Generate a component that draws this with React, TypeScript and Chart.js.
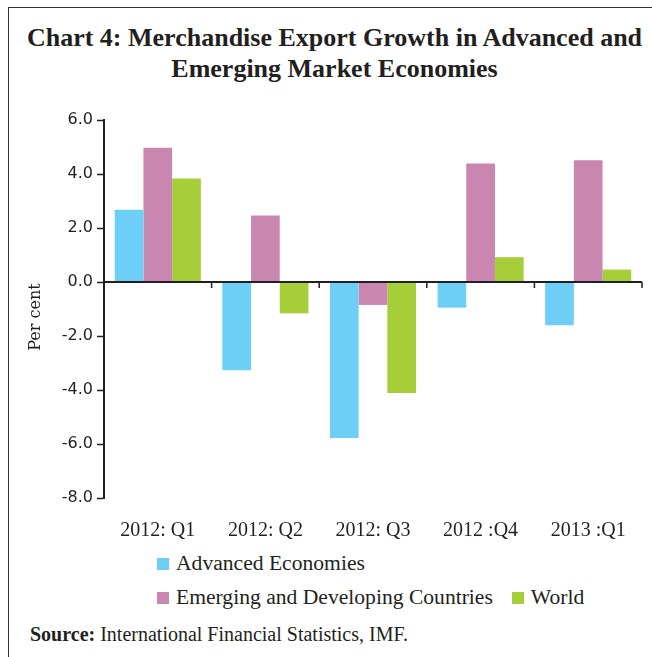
import React, { useEffect, useRef } from "react";
import { Chart, registerables } from "chart.js";

Chart.register(...registerables);

const categories = ["2012: Q1", "2012: Q2", "2012: Q3", "2012 :Q4", "2013 :Q1"];
const advanced = [2.68, -3.27, -5.78, -0.95, -1.6];
const emerging = [4.97, 2.46, -0.85, 4.39, 4.51];
const world = [3.83, -1.16, -4.11, 0.92, 0.46];
const seriesNames = ["Advanced Economies", "Emerging and Developing Countries", "World"];
const seriesColors = ["#6dcff6", "#c986b1", "#a6ce39"];
const yMin = -8;
const yMax = 6;
const yStep = 2;
const yTitle = "Per cent";

const INK = "#231f20";
const SERIF = "'Liberation Serif', 'Times New Roman', serif";

const zeroAxisPlugin = {
  id: "zeroAxis",
  afterDatasetsDraw(chart: any) {
    const { ctx, chartArea, scales } = chart;
    const y = scales.y;
    const x = scales.x;
    const y0 = y.getPixelForValue(0);
    ctx.save();
    ctx.strokeStyle = INK;
    ctx.lineWidth = 2;
    ctx.beginPath();
    ctx.moveTo(chartArea.left, y0);
    ctx.lineTo(chartArea.right, y0);
    ctx.stroke();
    ctx.lineWidth = 1.5;
    const n = categories.length;
    const step = n > 1 ? x.getPixelForValue(1) - x.getPixelForValue(0) : 0;
    for (let i = 0; i < n; i++) {
      const bx = x.getPixelForValue(i) + step / 2;
      ctx.beginPath();
      ctx.moveTo(bx, y0);
      ctx.lineTo(bx, y0 + 6);
      ctx.stroke();
    }
    // y axis title
    ctx.fillStyle = INK;
    ctx.font = "16px 'DejaVu Serif', serif";
    ctx.textAlign = "center";
    ctx.textBaseline = "middle";
    ctx.translate(36, (chartArea.top + chartArea.bottom) / 2 + 8);
    ctx.rotate(-Math.PI / 2);
    ctx.fillText(yTitle, 0, 0);
    ctx.restore();
  },
};

function ChartCanvas() {
  const ref = useRef<HTMLCanvasElement | null>(null);
  useEffect(() => {
    if (!ref.current) return;
    const chart = new Chart(ref.current, {
      type: "bar",
      data: {
        labels: categories,
        datasets: [advanced, emerging, world].map((d, i) => ({
          label: seriesNames[i],
          data: d,
          backgroundColor: seriesColors[i],
          borderWidth: 0,
          categoryPercentage: 0.8,
          barPercentage: 1.0,
        })),
      },
      options: {
        animation: false,
        responsive: false,
        devicePixelRatio: 1,
        layout: { padding: { left: 22, top: 20, right: 10, bottom: 0 } },
        plugins: {
          legend: { display: false },
          title: { display: false },
          tooltip: { enabled: false },
        },
        scales: {
          x: {
            grid: { display: false },
            border: { display: false },
            ticks: {
              color: INK,
              padding: 13,
              font: { family: SERIF, size: 20 },
              maxRotation: 0,
              autoSkip: false,
            },
            afterFit(scale: any) {
              scale.height = 47;
            },
          },
          y: {
            min: yMin,
            max: yMax,
            border: { display: true, color: INK, width: 2 },
            grid: {
              drawOnChartArea: false,
              drawTicks: true,
              tickLength: 7,
              tickWidth: 1.5,
              tickColor: INK,
              color: INK,
            },
            ticks: {
              stepSize: yStep,
              color: INK,
              padding: 4,
              font: { family: "'DejaVu Sans', sans-serif", size: 16 },
              callback: (v: any) => Number(v).toFixed(1),
            },
            title: { display: false },
            afterFit(scale: any) {
              scale.width = 82;
            },
          },
        },
      },
      plugins: [zeroAxisPlugin],
    });
    return () => chart.destroy();
  }, []);
  return (
    <canvas
      ref={ref}
      width={652}
      height={445}
      style={{ position: "absolute", left: 0, top: 100, display: "block", width: 652, height: 445 }}
    />
  );
}

function Swatch({ color }: { color: string }) {
  return (
    <span
      style={{
        display: "inline-block",
        width: 12,
        height: 12,
        background: color,
        marginRight: 7,
        verticalAlign: "baseline",
      }}
    />
  );
}

export default function App() {
  return (
    <div style={{ position: "absolute", left: 0, top: 0, width: 652, height: 657, overflow: "hidden", background: "#fff", fontFamily: SERIF, color: INK }}>
      <div
        style={{
          position: "absolute",
          left: 8,
          top: 7,
          width: 644,
          height: 650,
          borderLeft: "1px solid #333",
          borderTop: "1px solid #333",
          boxSizing: "border-box",
        }}
      />
      <div
        style={{
          position: "absolute",
          left: 22,
          top: 22,
          width: 625,
          textAlign: "center",
          fontWeight: "bold",
          fontSize: 26,
          lineHeight: "31px",
          whiteSpace: "nowrap",
        }}
      >
        <div>Chart 4: Merchandise Export Growth in Advanced and</div>
        <div>Emerging Market Economies</div>
      </div>
      <ChartCanvas />
      <div style={{ position: "absolute", left: 157, top: 551, fontSize: 21.6, lineHeight: "24px", whiteSpace: "nowrap" }}>
        <Swatch color={seriesColors[0]} />
        {seriesNames[0]}
      </div>
      <div style={{ position: "absolute", left: 157, top: 585, fontSize: 21.6, lineHeight: "24px", whiteSpace: "nowrap" }}>
        <Swatch color={seriesColors[1]} />
        {seriesNames[1]}
        <span style={{ display: "inline-block", width: 19 }} />
        <Swatch color={seriesColors[2]} />
        {seriesNames[2]}
      </div>
      <div style={{ position: "absolute", left: 30, top: 622, fontSize: 20, lineHeight: "24px", whiteSpace: "nowrap" }}>
        <b>Source:</b> International Financial Statistics, IMF.
      </div>
    </div>
  );
}
